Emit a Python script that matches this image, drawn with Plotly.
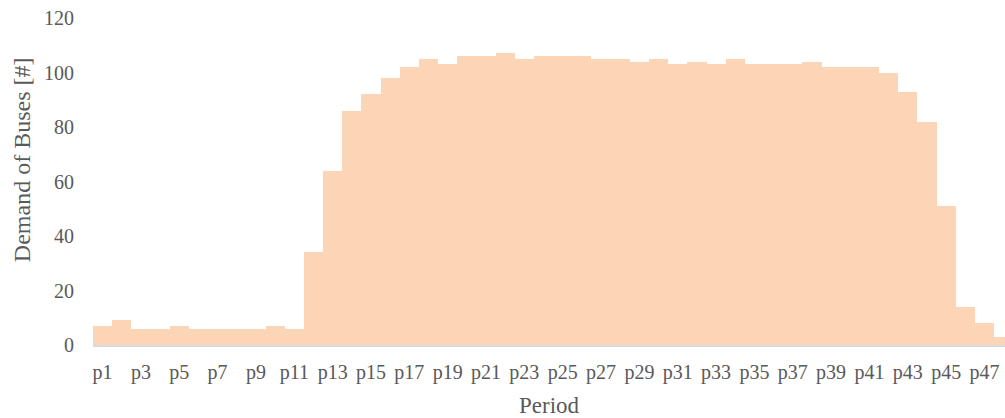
import plotly.graph_objects as go

# Bus demand per planning period
periods = [f"p{i}" for i in range(1, 49)]
demand = [7, 9, 6, 6, 7, 6, 6, 6, 6, 7, 6, 34,
          64, 86, 92, 98, 102, 105, 103, 106, 106, 107, 105, 106,
          106, 106, 105, 105, 104, 105, 103, 104, 103, 105, 103, 103,
          103, 104, 102, 102, 102, 100, 93, 82, 51, 14, 8, 3]
x_ticks = periods[::2]
y_ticks = [0, 20, 40, 60, 80, 100, 120]

FONT = "Liberation Serif"
TEXT = "#595959"

fig = go.Figure(
    go.Bar(
        x=periods,
        y=demand,
        marker=dict(color="#FBD5B6", line=dict(width=0)),
        hoverinfo="x+y",
    )
)

fig.update_layout(
    width=1005,
    height=418,
    margin=dict(l=93, r=0, t=18, b=73),
    paper_bgcolor="white",
    plot_bgcolor="white",
    bargap=0,
    showlegend=False,
    font=dict(family=FONT, color=TEXT, size=20),
    annotations=[
        dict(
            text="Demand of Buses [#]",
            xref="paper", yref="paper",
            x=-0.078, y=0.568,
            xanchor="center", yanchor="middle",
            textangle=-90, showarrow=False,
            font=dict(family=FONT, size=24, color=TEXT),
        )
    ],
)

fig.update_xaxes(
    type="category",
    range=[-0.5, 47.07],
    tickmode="array",
    tickvals=x_ticks,
    ticktext=x_ticks,
    tickangle=0,
    showgrid=False,
    zeroline=False,
    showline=True,
    linecolor="#D9D9D9",
    linewidth=2,
    ticks="",
    ticklabelstandoff=8,
    title=dict(text="Period", font=dict(family=FONT, size=23, color=TEXT), standoff=16),
)

fig.update_yaxes(
    range=[0, 120],
    tickmode="array",
    tickvals=y_ticks,
    showgrid=False,
    zeroline=False,
    showline=False,
    ticks="",
    ticklabelstandoff=18,
)

fig.write_html("out.html")
